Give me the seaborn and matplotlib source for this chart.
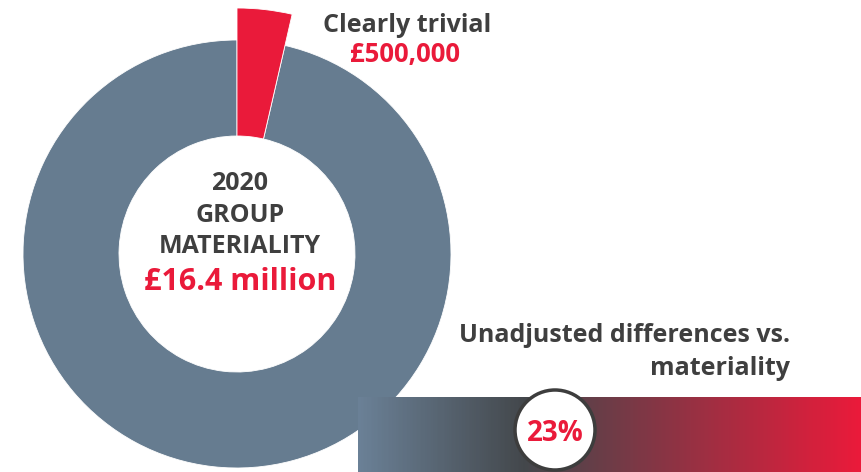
import numpy as np
import matplotlib
matplotlib.use("Agg")
import matplotlib.pyplot as plt
from matplotlib.colors import LinearSegmentedColormap
from matplotlib.patches import Circle
import seaborn as sns

# ---- data ----
donut_labels = ["Clearly trivial", "Rest of group materiality"]
donut_values = [3.6, 96.4]          # share of the ring as drawn (%)
materiality_year = "2020"
materiality_text = "£16.4 million"
trivial_text = "£500,000"
unadjusted_pct = 23
gradient_stops = [0.0, 0.33, 1.0]
gradient_colors = ["#6a8096", "#43474b", "#ea1a3a"]

GREY = "#667c90"
RED = "#ea1a3a"
DARK = "#3f3f3f"

sns.set_theme(style="white")
plt.rcParams["font.family"] = ["Open Sans", "DejaVu Sans"]

W, H = 861, 472
fig = plt.figure(figsize=(W / 100, H / 100), dpi=100)
fig.patch.set_facecolor("white")

def Y(y):
    return H - y

# ---- donut ----
ax = fig.add_axes([0, 0, 1, 1])
cx, cy, R, r_in = 237, Y(254), 214, 118
wedges, _ = ax.pie(donut_values, colors=[RED, GREY], startangle=90,
                   counterclock=False, radius=R, center=(cx, cy),
                   wedgeprops=dict(width=R - r_in, edgecolor="white", linewidth=0.6))
# highlighted slice sticks out beyond the ring
wedges[0].set_radius(246)
wedges[0].set_width(246 - r_in)
wedges[0].set_zorder(3)
ax.set_xlim(0, W)
ax.set_ylim(0, H)
ax.set_axis_off()

# centre text
ax.text(240, Y(190), materiality_year, ha="center", va="baseline",
        fontsize=18, fontweight="bold", color=DARK)
ax.text(240, Y(222), "GROUP", ha="center", va="baseline",
        fontsize=18, fontweight="bold", color=DARK)
ax.text(240, Y(253), "MATERIALITY", ha="center", va="baseline",
        fontsize=18, fontweight="bold", color=DARK)
ax.text(240, Y(290), materiality_text, ha="center", va="baseline",
        fontsize=22, fontweight="bold", color=RED)

# clearly trivial annotation
ax.text(407, Y(32), donut_labels[0], ha="center", va="baseline",
        fontsize=18, fontweight="bold", color=DARK)
ax.text(405, Y(62), trivial_text, ha="center", va="baseline",
        fontsize=18.5, fontweight="bold", color=RED)

# unadjusted differences label
ax.text(790, Y(342), "Unadjusted differences vs.", ha="right", va="baseline",
        fontsize=18, fontweight="bold", color=DARK)
ax.text(790, Y(375), "materiality", ha="right", va="baseline",
        fontsize=18, fontweight="bold", color=DARK)

# ---- gradient bar (seaborn heatmap) ----
bx0, by0 = 358, 397
bax = fig.add_axes([bx0 / W, 0, (W - bx0) / W, (H - by0) / H])
cmap = LinearSegmentedColormap.from_list("grad", list(zip(gradient_stops, gradient_colors)))
ramp = np.linspace(0, 1, 400)[None, :]
sns.heatmap(ramp, ax=bax, cmap=cmap, cbar=False, xticklabels=False,
            yticklabels=False, vmin=0, vmax=1)
bax.set_axis_off()

# ---- overlay: percentage badge ----
oax = fig.add_axes([0, 0, 1, 1])
oax.set_xlim(0, W)
oax.set_ylim(0, H)
oax.set_axis_off()
oax.patch.set_alpha(0)
oax.add_patch(Circle((555, Y(430)), 40, facecolor="white",
                     edgecolor="#3d3d3d", linewidth=2.5))
oax.text(555, Y(441), f"{unadjusted_pct}%", ha="center", va="baseline",
         fontsize=20, fontweight="bold", color=RED)

fig.savefig("out.png", dpi=100, facecolor="white")
